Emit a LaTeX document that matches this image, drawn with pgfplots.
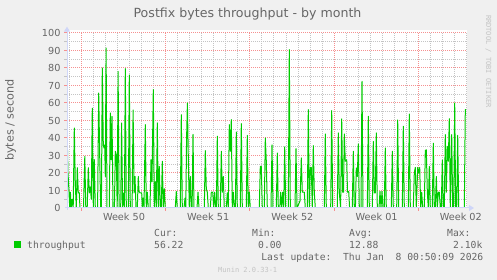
\documentclass[border=0pt]{standalone}
\usepackage{pgfplots}
\pgfplotsset{compat=1.18}
\usepackage{fontspec}
\setmainfont{DejaVu Sans}
\newfontfamily\monofont{DejaVu Sans Mono}
\usetikzlibrary{arrows.meta}
\definecolor{fontc}{HTML}{666666}
\definecolor{backc}{HTML}{F0F0F0}
\definecolor{axisc}{HTML}{CFD6F8}
\definecolor{mgrid}{HTML}{F59090}
\definecolor{gridc}{HTML}{C4C4C4}
\definecolor{linec}{HTML}{00CC00}
\definecolor{wmark}{HTML}{C4C4C4}
\pgfplotstableread{
x y
67 45.7
68 20
69 9.5
69.7 0
70.4 9
71.2 0
72.2 5
73.2 0
74.3 45.7
75.3 14
76.3 0
77.3 23
78.3 8.6
79.2 9
80 0
83.5 0
84.8 29.5
85.8 0
87.2 0
88.3 23
89.3 8.6
90.3 12
91.3 5
92.3 57
93.3 0
94.3 27.6
95.3 0
97.6 0
98.7 65.7
99.7 30
100.7 0
101.4 0
102.3 80
103.3 36
104 34.3
104.7 36
105.3 18
106.1 91.4
107 0
109.3 0
110.3 54.3
111.2 27.6
112 52.4
113 0
114.4 0
115.3 32.4
116.3 30.5
117.2 0
118.1 78
119.1 0
120.7 0
121.6 48.6
122.6 0
123.6 8.6
124.4 0
125.3 79.6
126.3 0
128.3 0
129.3 76
130.3 0
132.1 0
133.1 56
134.1 8.6
135 18
136 0
137.3 0
138.3 18
139 9.5
140 8.6
141.7 8.6
142.3 0
143 5.7
144 0
145.3 47.6
146.3 0
147.3 9
148.3 0
150 0
151 27.6
152 15
153.3 67.6
154.3 0
155.3 15
156.3 0
157.3 48.6
158.3 0
159.3 23.8
160.3 0
161.3 0
162.3 26.7
163.3 0
164.3 11
165.3 0
175.3 0
176.3 9.5
177.3 0
180.3 0
181.3 53.3
182.3 0
184 0
185 5.7
185.8 0
186.6 40
187.4 60
188.3 29
189.3 0
190.3 18
191.3 0
192.1 0
193 42
194 0
197 0
198 9
199 0
204.3 0
205.3 32.8
206.3 11
207.3 9
208.3 0
210.3 0
211.3 9
212.7 9
213.7 0
214.7 9
215.7 0
216.4 0
217.3 41
218.3 0
220.3 0
221.3 32.4
222.3 9
223.3 18
224.3 0
226.3 0
227.3 8.6
228.3 0
229.3 47.6
230.3 32.4
231.3 50.5
232.3 0
233.3 9
234.3 0
235.4 0
236.3 43.4
237.3 0
240.3 0
241.3 48.2
242.3 0
246.3 0
247.3 41.5
248.3 0
249.3 9
250.3 0
259.3 0
260.3 23.8
261.3 23.8
262.3 0
264.3 0
265.3 40
266.3 26.7
267.3 0
271 0
272 36
273 0
276.3 0
277.3 31.4
278.3 0
279.8 0
280.7 9
281.7 0
282.7 9
283.7 0
284.7 34.9
285.7 0
288.3 0
289.3 90.5
290.3 0
295 0
296 33.9
297 0
300 4
301.3 28.6
302.3 9
304.3 9
305.3 0
307.3 0
308.3 56.2
309.3 0
310.3 23.2
311.3 23.2
312.3 0
313.3 35.6
314.3 9
315.3 0
324.3 0
325.3 42.3
326.3 0
330.7 0
331.7 55.6
332.7 0
337.3 0
338.3 42.9
339.3 9
340.6 0
341.7 50.9
342.7 9
343.5 9
344.3 42.3
345.3 26.7
346.7 27.6
347.5 9
348.7 9.5
349.6 0
352.3 0
353.3 32.4
354.3 0
355.4 0
356.3 22.9
357.3 18
358.3 36.6
359.3 0
361 0
362 72.4
363 0
367.3 0
368.3 52.4
369.3 0
372.3 0
373.3 38
374.3 8.6
375.3 8.6
376.3 42.9
377.3 0
379 0
380 9.5
381 0
382 9.5
383 0
384.3 0
385.3 34.3
386.3 0
391.3 0
392.3 32.4
393.3 0
396.7 0
397.7 50.3
398.7 0
402.3 0
403.3 46.7
404.3 0
408.3 0
409.3 53.7
410.3 0
413.3 0
414.3 20
415.3 23.2
416.3 0
417.7 23.2
418.7 20
419.7 23.2
420.7 0
421.7 9
422.7 0
424.3 0
425.3 32.8
426.3 33.3
427.3 9.5
428.3 0
429.3 23.8
430.3 0
432.3 0
433.3 37
434.3 0
435.3 0
436.3 18
437.3 0
438.3 9
439.3 9
440.3 0
441.3 0
442.3 27.4
443.3 0
444.3 0
445.3 41.9
446.3 9
447.3 35.2
448.3 26.7
449.3 51
450.3 0
451.7 41.9
452.7 0
453.7 0
454.7 60
455.7 0
456.7 0
457.7 41.5
458.7 0
464.3 0
465.3 56.2
466 56.2
}\throughput
\begin{document}
\begin{tikzpicture}[x=1pt,y=1pt]
\fill[backc] (0,0) rectangle (497,280);
\useasboundingbox (0,0) rectangle (497,280);
\fill[white] (67,72) rectangle (467,249.5);
\begin{axis}[
  at={(67pt,72pt)}, anchor=south west,
  scale only axis, width=400pt, height=175pt,
  xmin=67, xmax=467, ymin=0, ymax=100,
  axis line style={draw=none},
  major tick length=0pt, minor tick length=0pt,
  xtick={124,208.2,292.4,376.6,460.8},
  xticklabels={Week 50,Week 51,Week 52,Week 01,Week 02},
  minor xtick={69.47,81.5,...,466},
  extra x ticks={81.5,165.7,249.9,334.1,418.3},
  extra x tick labels={},
  extra x tick style={xmajorgrids=true},
  ytick={0,10,...,100},
  minor ytick={5,15,...,95},
  xmajorgrids=false, xminorgrids=true,
  ymajorgrids=true, yminorgrids=true,
  major grid style={mgrid, line width=1pt, dash pattern=on 1pt off 1pt},
  minor grid style={gridc, line width=1pt, dash pattern=on 1pt off 1pt},
  /pgf/number format/assume math mode=true,
  ticklabel style={font=\fontsize{9.7}{11}\selectfont, text=fontc},
  yticklabel style={anchor=east, inner sep=0pt, xshift=-6.3pt},
  xticklabel style={anchor=north, inner sep=0pt, yshift=-5pt},
]
\addplot[draw=linec, line width=1pt, line join=round, mark=none] table[x=x,y=y] {\throughput};
\end{axis}
% axis lines with arrows
\draw[axisc, line width=1pt, -{Triangle[length=5pt,width=6pt]}] (65,72) -- (474,72);
\draw[axisc, line width=1pt, -{Triangle[length=5pt,width=6pt]}] (67,70) -- (67,253.3);
% small ticks
\foreach \yy in {5,15,...,95} {\draw[gridc, line width=1pt] (64,72+1.75*\yy) -- (67,72+1.75*\yy);}
\foreach \yy in {10,20,...,100} {\draw[mgrid, line width=1pt] (64,72+1.75*\yy) -- (67,72+1.75*\yy);}
\foreach \xx in {81.5,165.7,249.9,334.1,418.3} {\draw[mgrid, line width=1pt] (\xx,69) -- (\xx,71.5);}
% title and labels
\node[anchor=base, inner sep=0pt, font=\fontsize{12.6}{14}\selectfont, text=fontc] at (247.5,262) {Postfix bytes throughput - by month};
\node[rotate=90, inner sep=0pt, font=\fontsize{11.2}{13}\selectfont, text=fontc] at (10.5,160) {bytes / second};
\node[rotate=-90, inner sep=0pt, font=\monofont\fontsize{7}{8}\selectfont, text=wmark] at (488.5,218.5) {RRDTOOL / TOBI OETIKER};
% legend
\fill[linec] (14,32) rectangle (20.5,38.5);
\begin{scope}[every node/.style={inner sep=0pt, font=\monofont\fontsize{9.7}{11}\selectfont, text=fontc}]
\node[anchor=base west] at (154,43) {Cur:};
\node[anchor=base west] at (252,43) {Min:};
\node[anchor=base west] at (349,43) {Avg:};
\node[anchor=base west] at (447,43) {Max:};
\node[anchor=base west] at (27,31) {throughput};
\node[anchor=base west] at (154,31) {56.22};
\node[anchor=base west] at (258,31) {0.00};
\node[anchor=base west] at (349,31) {12.88};
\node[anchor=base west] at (453,31) {2.10k};
\node[anchor=base east] at (483.5,19.5) {Last update:~~Thu Jan~~8 00:50:09 2026};
\end{scope}
\node[anchor=base west, inner sep=0pt, font=\monofont\fontsize{7}{8}\selectfont, text=wmark] at (218,7.5) {Munin 2.0.33-1};
\end{tikzpicture}
\end{document}
